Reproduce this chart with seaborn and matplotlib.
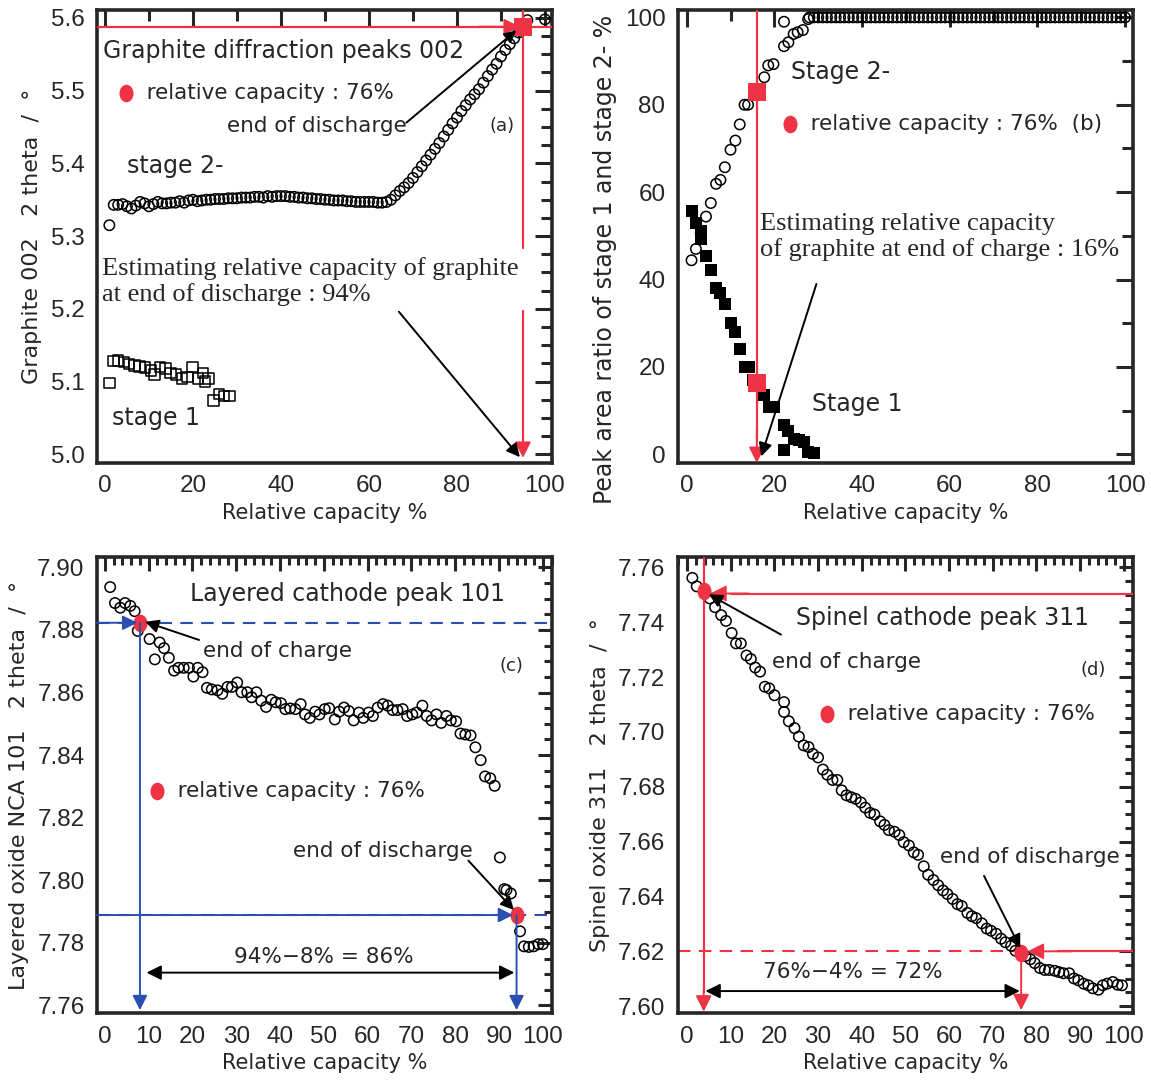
import matplotlib
matplotlib.use("Agg")
import matplotlib.pyplot as plt
import matplotlib.transforms as mtransforms
from matplotlib.path import Path
from matplotlib.ticker import MultipleLocator, FormatStrFormatter
import seaborn as sns


# ---------------- data ----------------
# (a) graphite 002 peak position
a_stage2_x = list(range(1, 95)) + [96, 100]
a_stage2_y = [5.315, 5.343, 5.343, 5.344, 5.341, 5.338, 5.342, 5.347, 5.345, 5.341,
              5.344, 5.347, 5.345, 5.345, 5.346, 5.346, 5.348, 5.346, 5.349, 5.350,
              5.348, 5.349, 5.350, 5.350, 5.351, 5.351, 5.351, 5.352, 5.352, 5.352,
              5.353, 5.353, 5.353, 5.354, 5.354, 5.353, 5.355, 5.354, 5.355, 5.355,
              5.355, 5.354, 5.354, 5.353, 5.353, 5.352, 5.352, 5.351, 5.351, 5.350,
              5.350, 5.349, 5.349, 5.349, 5.348, 5.348, 5.347, 5.347, 5.347, 5.347,
              5.347, 5.346, 5.346, 5.347, 5.350, 5.356, 5.362, 5.367, 5.373, 5.380,
              5.388, 5.396, 5.404, 5.412, 5.420, 5.428, 5.437, 5.446, 5.455, 5.463,
              5.472, 5.480, 5.488, 5.495, 5.502, 5.511, 5.520, 5.529, 5.537, 5.547,
              5.556, 5.564, 5.572, 5.580, 5.597, 5.598]
a_stage1_x = [1, 2, 3, 4.3, 5.5, 6.7, 7.9, 9.1, 10.5, 11.3, 12.5, 13.7, 14.9,
              16.1, 17.5, 18.7, 19.9, 21.1, 22.3, 22.7, 23.5, 24.7, 25.9, 27.1, 28.3]
a_stage1_y = [5.098, 5.128, 5.129, 5.127, 5.124, 5.122, 5.121, 5.119, 5.115, 5.110,
              5.120, 5.118, 5.112, 5.110, 5.104, 5.106, 5.120, 5.104, 5.112, 5.100,
              5.104, 5.074, 5.083, 5.080, 5.080]
a_mark_x = [95]
a_mark_y = [5.588]

# (b) peak area ratio of stage 1 and stage 2-
b_stage2_x = [1.1, 2.1, 3.2, 4.4, 5.5, 6.7, 7.7, 8.7, 10.0, 11.1, 12.1, 13.2, 14.0,
              16.0, 17.7, 18.6, 19.8, 22.2, 22.2, 23.2, 24.4, 25.3, 26.5, 27.7] + list(range(28, 101))
b_stage2_y = [44.4, 47.0, 50.5, 54.4, 57.5, 61.9, 62.8, 65.7, 69.7, 71.8, 75.5, 80.0, 80.0,
              83.0, 86.3, 89.0, 89.3, 93.4, 99.0, 94.3, 96.2, 96.6, 97.1, 99.6] + [100.0] * 73
b_stage1_x = [1.1, 2.1, 3.2, 3.3, 4.4, 5.5, 6.7, 7.7, 8.7, 10.0, 11.1, 12.1, 13.2, 14.2,
              15.2, 16.1, 17.7, 18.7, 20.0, 22.2, 23.2, 24.4, 25.7, 26.7, 22.2, 27.7, 29.0]
b_stage1_y = [55.6, 52.9, 49.3, 51.0, 45.3, 42.2, 38.1, 36.9, 34.3, 30.1, 27.9, 24.2, 20.0,
              20.0, 17.0, 16.2, 13.6, 10.9, 10.8, 6.6, 5.4, 3.5, 3.3, 2.7, 0.9, 0.5, 0.2]
b_mark_x = [16, 16]
b_mark_y = [83.0, 16.2]

# (c) layered oxide NCA 101
c_x = [1.2, 2.3, 3.5, 4.6, 5.8, 6.8, 7.5, 10.2, 11.4, 12.5, 13.5, 14.6, 15.8, 16.8, 18.0,
       19.2, 20.2, 21.2, 22.3, 23.3, 24.4, 25.7, 26.8, 28.0, 29.0, 30.2, 31.2, 32.5, 33.5,
       34.6, 35.7, 36.8, 38.0, 39.0, 40.2, 41.2, 42.3, 43.5, 44.7, 45.7, 46.8, 48.0, 49.0,
       50.2, 51.2, 52.5, 53.5, 54.6, 55.7, 56.8, 58.0, 59.0, 60.2, 61.2, 62.3, 63.5, 64.6,
       65.7, 66.8, 68.0, 69.0, 70.2, 71.2, 72.5, 73.5, 74.6, 75.7, 76.8, 78.0, 79.0, 80.2,
       81.2, 82.3, 83.5, 84.6, 85.8, 86.8, 88.0, 89.0, 90.2, 91.2, 91.7, 92.7, 94.8, 95.7,
       96.8, 97.9, 99.0, 100.0]
c_y = [7.8937, 7.8886, 7.8871, 7.8886, 7.8877, 7.8860, 7.8797, 7.8771, 7.8706, 7.8760,
       7.8742, 7.8711, 7.8670, 7.8679, 7.8679, 7.8679, 7.8651, 7.8679, 7.8665, 7.8615,
       7.8610, 7.8607, 7.8596, 7.8618, 7.8618, 7.8632, 7.8601, 7.8601, 7.8585, 7.8601,
       7.8574, 7.8554, 7.8577, 7.8569, 7.8566, 7.8547, 7.8549, 7.8547, 7.8563, 7.8530,
       7.8519, 7.8539, 7.8530, 7.8547, 7.8550, 7.8514, 7.8539, 7.8552, 7.8541, 7.8511,
       7.8536, 7.8519, 7.8536, 7.8525, 7.8552, 7.8563, 7.8558, 7.8544, 7.8544, 7.8547,
       7.8525, 7.8530, 7.8536, 7.8558, 7.8525, 7.8511, 7.8530, 7.8503, 7.8525, 7.8511,
       7.8508, 7.8469, 7.8466, 7.8463, 7.8425, 7.8384, 7.8332, 7.8326, 7.8302, 7.8073,
       7.7972, 7.7969, 7.7958, 7.7837, 7.7789, 7.7787, 7.7789, 7.7796, 7.7796]
c_mark_x = [8, 94]
c_mark_y = [7.8823, 7.7889]

# (d) spinel oxide 311
d_x = [1.2, 2.2, 5.2, 6.4, 7.8, 8.9, 10.2, 11.2, 12.3, 13.6, 14.6, 15.6, 16.7, 17.8, 18.8,
       20.0, 22.2, 22.2, 23.3, 24.6, 25.6, 26.7, 27.8, 28.8, 30.0, 31.1, 32.1, 33.3, 34.4,
       35.4, 36.5, 37.6, 38.6, 39.8, 40.8, 41.9, 42.9, 44.2, 45.2, 46.2, 47.5, 48.6, 49.6,
       50.8, 51.9, 52.9, 54.2, 55.2, 56.4, 57.5, 58.6, 59.6, 60.8, 61.9, 62.9, 64.2, 65.2,
       66.2, 67.5, 68.6, 69.6, 70.8, 71.9, 72.9, 74.2, 75.2, 77.5, 78.6, 79.6, 80.8, 81.9,
       82.9, 84.2, 85.2, 86.2, 87.5, 88.6, 89.6, 90.8, 91.9, 92.9, 94.2, 95.2, 96.2, 97.5,
       98.6, 99.6]
d_y = [7.7562, 7.7531, 7.7487, 7.7455, 7.7426, 7.7405, 7.7361, 7.7323, 7.7323, 7.7279,
       7.7266, 7.7235, 7.7220, 7.7165, 7.7159, 7.7134, 7.7109, 7.7073, 7.7039, 7.7014,
       7.6983, 7.6951, 7.6945, 7.6920, 7.6907, 7.6863, 7.6844, 7.6825, 7.6825, 7.6787,
       7.6769, 7.6762, 7.6756, 7.6743, 7.6724, 7.6705, 7.6699, 7.6674, 7.6661, 7.6642,
       7.6636, 7.6624, 7.6598, 7.6586, 7.6561, 7.6552, 7.6510, 7.6479, 7.6460, 7.6441,
       7.6422, 7.6409, 7.6391, 7.6372, 7.6365, 7.6340, 7.6328, 7.6321, 7.6302, 7.6283,
       7.6275, 7.6264, 7.6246, 7.6233, 7.6220, 7.6202, 7.6183, 7.6171, 7.6157, 7.6139,
       7.6132, 7.6132, 7.6129, 7.6124, 7.6120, 7.6120, 7.6101, 7.6094, 7.6082, 7.6076,
       7.6065, 7.6060, 7.6076, 7.6082, 7.6088, 7.6078, 7.6076]
d_mark_x = [3.8, 76.5]
d_mark_y = [7.7515, 7.6193]

RED = "#ee3344"
BLUE = "#2a4fb0"
SANS = ["DejaVu Sans"]
SERIF = ["Liberation Serif", "DejaVu Serif"]

# slightly tall ellipse used for the red markers
ELLIPSE = Path.unit_circle().transformed(mtransforms.Affine2D().scale(0.8, 1.0))


def open_marks(ax, x, y, marker="o", size=56):
    sns.scatterplot(x=x, y=y, marker=marker, s=size, fc="none", ec="black",
                    linewidth=1.1, ax=ax, zorder=3)


def red_marks(ax, x, y, marker=ELLIPSE, size=160):
    sns.scatterplot(x=x, y=y, marker=marker, s=size, color=RED, linewidth=0,
                    ax=ax, zorder=6)


def arrow(ax, tail, head, color="black", style="-|>", lw=1.4, ms=22):
    ax.annotate("", xy=head, xytext=tail,
                arrowprops=dict(arrowstyle=style, color=color, lw=lw,
                                mutation_scale=ms, shrinkA=0, shrinkB=0),
                zorder=7)


def legend_dot(ax, x, y, text, size=15.5):
    ax.scatter([x], [y], marker=ELLIPSE, s=160, color=RED, linewidth=0, zorder=6)
    ax.text(x, y, "   " + text, fontsize=size, va="center", ha="left", family=SANS)


def style_axes(ax, xmaj, xmin, ymaj, ymin, yfmt, xlim, ylim, ylabel, majlen, minlen,
               ylabel_size=16):
    ax.set_xlim(*xlim)
    ax.set_ylim(*ylim)
    ax.xaxis.set_major_locator(MultipleLocator(xmaj))
    ax.xaxis.set_minor_locator(MultipleLocator(xmin))
    ax.yaxis.set_major_locator(MultipleLocator(ymaj))
    ax.yaxis.set_minor_locator(MultipleLocator(ymin))
    ax.yaxis.set_major_formatter(FormatStrFormatter(yfmt))
    ax.tick_params(which="both", direction="in", top=True, right=True, width=2.2)
    ax.tick_params(which="major", length=majlen, labelsize=17.5, pad=9,
                   labelfontfamily="Liberation Sans")
    ax.tick_params(which="minor", length=minlen)
    for sp in ax.spines.values():
        sp.set_linewidth(2.6)
        sp.set_visible(True)
    ax.set_xlabel("Relative capacity %", fontsize=15, family=SANS, labelpad=4)
    ax.set_ylabel(ylabel, fontsize=ylabel_size, family=SANS, labelpad=6)


sns.set_style("white")
plt.rcParams["font.family"] = SANS

fig = plt.figure(figsize=(11.51, 10.81), dpi=100)
ax_a = fig.add_axes([0.0843, 0.5717, 0.3953, 0.4191])
ax_b = fig.add_axes([0.5890, 0.5717, 0.3953, 0.4191])
ax_c = fig.add_axes([0.0843, 0.0629, 0.3953, 0.4218])
ax_d = fig.add_axes([0.5890, 0.0629, 0.3953, 0.4218])

# ---------------- (a) ----------------
ax = ax_a
open_marks(ax, a_stage2_x, a_stage2_y)
open_marks(ax, a_stage1_x, a_stage1_y, marker="s", size=58)
ax.axhline(a_mark_y[0], color=RED, lw=1.6, zorder=4)
arrow(ax, (85, a_mark_y[0]), (94.3, a_mark_y[0]), color=RED, ms=24)
ax.plot([a_mark_x[0]] * 2, [5.62, 5.283], color=RED, lw=1.6, zorder=4)
ax.plot([a_mark_x[0]] * 2, [5.197, 5.02], color=RED, lw=1.6, zorder=4)
arrow(ax, (a_mark_x[0], 5.05), (a_mark_x[0], 4.995), color=RED, ms=24)
red_marks(ax, a_mark_x, a_mark_y, marker="s", size=160)
ax.text(-0.5, 5.555, "Graphite diffraction peaks 002", fontsize=17, va="center",
        family=SANS, bbox=dict(fc="white", ec="none", pad=0), zorder=5)
legend_dot(ax, 4.8, 5.497, "relative capacity : 76%")
ax.text(68.5, 5.452, "end of discharge", fontsize=15.5, ha="right", va="center", family=SANS)
arrow(ax, (68.5, 5.456), (93.5, 5.583), ms=18)
ax.text(87.5, 5.452, "(a)", fontsize=13, va="center", family=SANS)
ax.text(5, 5.397, "stage 2-", fontsize=17, va="center", family=SANS)
ax.text(-0.6, 5.238, "Estimating relative capacity of graphite\nat end of discharge : 94%",
        fontsize=19, va="center", family=SERIF, linespacing=1.15,
        bbox=dict(fc="white", ec="none", pad=0), zorder=5)
arrow(ax, (66.8, 5.196), (94.3, 4.996), ms=20)
ax.text(1.5, 5.05, "stage 1", fontsize=17, va="center", family=SANS)
style_axes(ax, 20, 10, 0.1, 0.025, "%.1f", (-1.8, 101.6), (4.988, 5.611),
           "Graphite 002   2 theta  /  \u00b0", 12, 8)

# ---------------- (b) ----------------
ax = ax_b
open_marks(ax, b_stage2_x, b_stage2_y)
sns.scatterplot(x=b_stage1_x, y=b_stage1_y, marker="s", s=80, color="black",
                linewidth=0, ax=ax, zorder=3)
ax.plot([b_mark_x[0]] * 2, [102, 3], color=RED, lw=1.6, zorder=4)
arrow(ax, (b_mark_x[0], 6), (b_mark_x[0], -2), color=RED, ms=24)
red_marks(ax, b_mark_x, b_mark_y, marker="s", size=160)
ax.text(23.8, 87.5, "Stage 2-", fontsize=17, va="center", family=SANS)
legend_dot(ax, 23.5, 75.5, "relative capacity : 76%  (b)")
ax.text(16.8, 49.8, "Estimating relative capacity\nof graphite at end of charge : 16%",
        fontsize=19, va="center", family=SERIF, linespacing=1.15)
arrow(ax, (29.6, 39.0), (17.0, -0.5), ms=20)
ax.text(28.5, 11.5, "Stage 1", fontsize=17, va="center", family=SANS)
style_axes(ax, 20, 10, 20, 10, "%d", (-2, 101.8), (-2, 101.7),
           "Peak area ratio of stage 1 and stage 2- %", 12, 8, ylabel_size=17)
ax.yaxis.set_label_coords(-0.135, 0.45)

# ---------------- (c) ----------------
ax = ax_c
open_marks(ax, c_x, c_y)
for yy in c_mark_y:
    ax.axhline(yy, color=BLUE, lw=1.5, ls=(0, (6, 4)), zorder=2)
arrow(ax, (-1.8, c_mark_y[0]), (7.4, c_mark_y[0]), color=BLUE, ms=22)
arrow(ax, (-1.8, c_mark_y[1]), (93.2, c_mark_y[1]), color=BLUE, ms=22)
arrow(ax, (c_mark_x[0], c_mark_y[0]), (c_mark_x[0], 7.7585), color=BLUE, ms=22)
arrow(ax, (c_mark_x[1], c_mark_y[1]), (c_mark_x[1], 7.7585), color=BLUE, ms=22)
red_marks(ax, c_mark_x, c_mark_y)
arrow(ax, (9.5, 7.7705), (93.5, 7.7705), style="<|-|>", ms=22)
ax.text(50, 7.7755, "94%\u22128% = 86%", fontsize=15.5, ha="center", va="center", family=SANS)
ax.text(19.5, 7.8915, "Layered cathode peak 101", fontsize=17, va="center", family=SANS)
ax.text(22.5, 7.8732, "end of charge", fontsize=15.5, va="center", family=SANS)
arrow(ax, (21.5, 7.8768), (9.2, 7.8826), ms=20)
ax.text(90, 7.8685, "(c)", fontsize=13, va="center", family=SANS)
legend_dot(ax, 12, 7.8285, "relative capacity : 76%")
ax.text(84, 7.8095, "end of discharge", fontsize=15.5, ha="right", va="center", family=SANS)
arrow(ax, (83, 7.8063), (93.4, 7.7905), ms=20)
style_axes(ax, 10, 2, 0.02, 0.005, "%.2f", (-1.8, 102.1), (7.7576, 7.9033),
           "Layered oxide NCA 101   2 theta  /  \u00b0", 10, 6)

# ---------------- (d) ----------------
ax = ax_d
open_marks(ax, d_x, d_y)
ax.plot([d_mark_x[0]] * 2, [7.765, 7.605], color=RED, lw=1.6, zorder=4)
arrow(ax, (d_mark_x[0], 7.606), (d_mark_x[0], 7.598), color=RED, ms=24)
ax.plot([-2.1, d_mark_x[1]], [7.62, 7.62], color=RED, lw=1.5, ls=(0, (6, 4)), zorder=2)
ax.plot([10, 102.1], [7.7505, 7.7505], color=RED, lw=1.6, zorder=4)
arrow(ax, (14, 7.7505), (5.3, 7.7505), color=RED, ms=24)
ax.plot([85, 102.1], [7.62, 7.62], color=RED, lw=1.6, zorder=4)
arrow(ax, (88, 7.62), (78, 7.62), color=RED, ms=24)
arrow(ax, (d_mark_x[1], d_mark_y[1]), (d_mark_x[1], 7.5985), color=RED, ms=24)
red_marks(ax, d_mark_x, d_mark_y)
arrow(ax, (4.2, 7.6055), (76.2, 7.6055), style="<|-|>", ms=22)
ax.text(38, 7.6125, "76%\u22124% = 72%", fontsize=15.5, ha="center", va="center", family=SANS)
ax.text(25, 7.7415, "Spinel cathode peak 311", fontsize=17, va="center", family=SANS)
ax.text(19.5, 7.7255, "end of charge", fontsize=15.5, va="center", family=SANS)
arrow(ax, (21.5, 7.7355), (5.0, 7.7502), ms=20)
ax.text(90, 7.7225, "(d)", fontsize=13, va="center", family=SANS)
legend_dot(ax, 32, 7.7065, "relative capacity : 76%")
ax.text(58, 7.6545, "end of discharge", fontsize=15.5, va="center", family=SANS)
arrow(ax, (68, 7.6475), (76.3, 7.6212), ms=20)
style_axes(ax, 10, 2, 0.02, 0.005, "%.2f", (-2.1, 102.1), (7.5975, 7.7638),
           "Spinel oxide 311   2 theta  /  \u00b0", 10, 6)

fig.savefig("out.png", dpi=100)
